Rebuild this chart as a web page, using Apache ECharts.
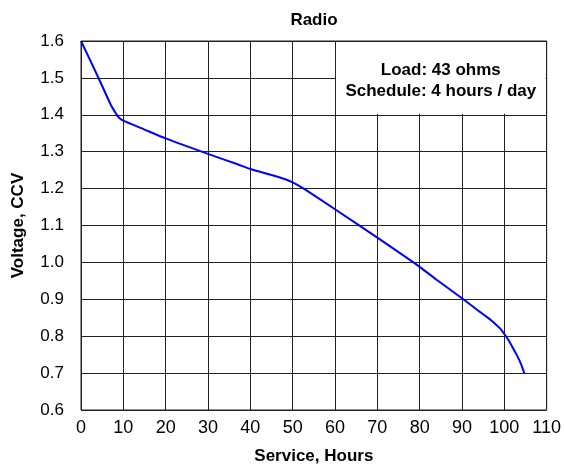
<!DOCTYPE html>
<html>
<head>
<meta charset="utf-8">
<script src="https://cdn.jsdelivr.net/npm/echarts@6/dist/echarts.min.js"></script>
<style>
html,body{margin:0;padding:0;background:#fff;}
#chart{width:564px;height:470px;}
</style>
</head>
<body>
<div id="chart"></div>
<script>
// Data
const titleText = 'Radio';
const xAxisName = 'Service, Hours';
const yAxisName = 'Voltage, CCV';
const noteLines = ['Load: 43 ohms', 'Schedule: 4 hours / day'];
const hours = [0, 4, 7, 8, 8.5, 9, 10, 15, 20, 30, 37, 40, 45, 47, 49, 51, 53, 60, 70, 80, 84, 90, 94, 96, 97, 98, 99, 100, 101, 102, 103, 104, 104.7];
const voltage = [1.6, 1.503, 1.428, 1.408, 1.399, 1.392, 1.384, 1.36, 1.336, 1.294, 1.266, 1.253, 1.237, 1.230, 1.222, 1.211, 1.197, 1.144, 1.067, 0.988, 0.953, 0.903, 0.868, 0.851, 0.842, 0.832, 0.821, 0.806, 0.789, 0.769, 0.748, 0.723, 0.70];
const noteBox = { x0: 60, x1: 110, y0: 1.4, y1: 1.6 };

const FONT = "'Liberation Sans', Arial, Helvetica, sans-serif";
const GRIDC = '#222';

const chart = echarts.init(document.getElementById('chart'), null, { renderer: 'canvas' });

const seriesData = hours.map((h, i) => [h, voltage[i]]);

const option = {
  backgroundColor: '#fff',
  animation: false,
  title: {
    text: titleText,
    left: 314,
    top: 12,
    padding: 0,
    textAlign: 'center',
    textStyle: { fontFamily: FONT, fontSize: 17, fontWeight: 'bold', color: '#000' }
  },
  grid: { left: 81, right: 16, top: 41, bottom: 58, show: true, borderColor: GRIDC, borderWidth: 1, backgroundColor: 'transparent', z: 5 },
  xAxis: {
    type: 'value', min: 0, max: 110, interval: 10,
    name: xAxisName, nameLocation: 'middle', nameGap: 38,
    nameTextStyle: { fontFamily: FONT, fontSize: 17, fontWeight: 'bold', color: '#000' },
    axisLine: { show: false }, axisTick: { show: false },
    axisLabel: { fontFamily: FONT, fontSize: 18, color: '#000', margin: 9 },
    splitLine: { show: true, lineStyle: { color: GRIDC, width: 1 } }
  },
  yAxis: {
    type: 'value', min: 0.6, max: 1.6, interval: 0.1,
    name: yAxisName, nameLocation: 'middle', nameGap: 54, nameRotate: 90,
    nameTextStyle: { fontFamily: FONT, fontSize: 17, fontWeight: 'bold', color: '#000' },
    axisLine: { show: false }, axisTick: { show: false },
    axisLabel: { fontFamily: FONT, fontSize: 17, color: '#000', margin: 17, formatter: v => v.toFixed(1) },
    splitLine: { show: true, lineStyle: { color: GRIDC, width: 1 } }
  },
  series: [{
    type: 'line',
    data: seriesData,
    showSymbol: false,
    smooth: 0.2,
    lineStyle: { color: '#0000ff', width: 2 },
    z: 3
  }]
};
chart.setOption(option);

const p0 = chart.convertToPixel({ gridIndex: 0 }, [noteBox.x0, noteBox.y1]);
const p1 = chart.convertToPixel({ gridIndex: 0 }, [noteBox.x1, noteBox.y0]);
const bx = Math.min(p0[0], p1[0]), by = Math.min(p0[1], p1[1]);
const bw = Math.abs(p1[0] - p0[0]), bh = Math.abs(p1[1] - p0[1]);

chart.setOption({
  graphic: [
    { type: 'rect', shape: { x: bx + 1, y: by + 1, width: bw - 2, height: bh - 2 }, style: { fill: '#fff' }, z: 1 },
    { type: 'text', x: bx + bw / 2, y: by + bh / 2 + 3, z: 6,
      style: { text: noteLines.join('\n'), fontFamily: FONT, fontSize: 17, fontWeight: 'bold', fill: '#000', align: 'center', verticalAlign: 'middle', lineHeight: 21 } }
  ]
});
</script>
</body>
</html>
